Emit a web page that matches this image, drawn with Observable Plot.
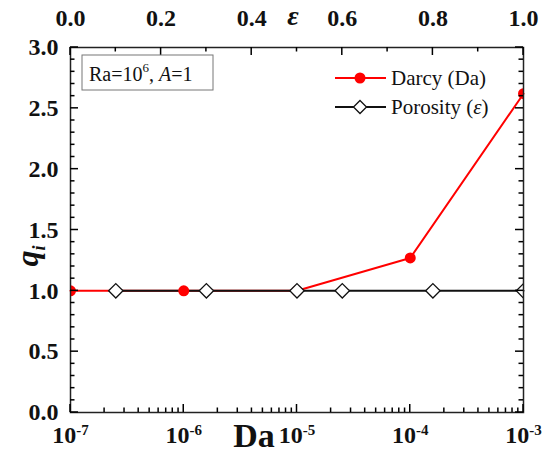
<!DOCTYPE html>
<html><head><meta charset="utf-8">
<script src="https://cdn.jsdelivr.net/npm/d3@7"></script>
<script src="https://cdn.jsdelivr.net/npm/@observablehq/plot@0.6"></script>
<style>
body{margin:0;background:#fff}
svg{font-family:"Liberation Serif","Times New Roman",serif}
</style>
</head><body><div id="chart"></div>
<script>
// ---- data ----
const darcyDa = [1e-7, 1e-6, 1e-5, 1e-4, 1e-3];
const darcyQ = [1.0, 1.0, 1.0, 1.27, 2.62];
const porosityEps = [0.1, 0.3, 0.5, 0.6, 0.8, 1.0];
const porosityQ = [1.0, 1.0, 1.0, 1.0, 1.0, 1.0];
// ---- ticks ----
const daTicks = [1e-7, 1e-6, 1e-5, 1e-4, 1e-3];
const daMinor = [-7, -6, -5, -4].flatMap(k => [2,3,4,5,6,7,8,9].map(m => m * 10 ** k));
const epsTicks = [0, 0.2, 0.4, 0.6, 0.8, 1.0];
const epsMinor = [0.1, 0.3, 0.5, 0.7, 0.9];
const qTicks = [0, 0.5, 1.0, 1.5, 2.0, 2.5, 3.0];
const qMinor = [0.1,0.2,0.3,0.4,0.6,0.7,0.8,0.9,1.1,1.2,1.3,1.4,1.6,1.7,1.8,1.9,2.1,2.2,2.3,2.4,2.6,2.7,2.8,2.9];

const epsToDa = e => 10 ** (-7 + 4 * e);

const darcy = darcyDa.map((x, i) => ({x, q: darcyQ[i]}));
const porosity = porosityEps.map((e, i) => ({x: epsToDa(e), q: porosityQ[i]}));

const tickFont = {fontSize: 24, fontWeight: "bold", fill: "#111"};

const chart = Plot.plot({
  width: 544, height: 455,
  marginLeft: 70, marginRight: 21, marginTop: 47, marginBottom: 43,
  style: {fontFamily: '"Liberation Serif", serif', background: "#fff", overflow: "visible"},
  x: {type: "log", domain: [1e-7, 1e-3], label: null, axis: null},
  y: {domain: [0, 3], label: null, axis: null},
  marks: [
    // tick labels
    Plot.text(daTicks, {x: d => d, text: d => "10^" + Math.round(Math.log10(d)), frameAnchor: "bottom",
      lineAnchor: "top", dy: 13, ...tickFont}),
    Plot.text(epsTicks, {x: epsToDa, text: e => e.toFixed(1), frameAnchor: "top",
      lineAnchor: "bottom", dy: -22, ...tickFont}),
    Plot.text(qTicks, {y: d => d, text: d => d.toFixed(1), frameAnchor: "left",
      textAnchor: "end", dx: -12, ...tickFont}),
    // data
    Plot.line(darcy, {x: "x", y: "q", stroke: "#ff0000", strokeWidth: 2}),
    Plot.line(porosity, {x: "x", y: "q", stroke: "#111", strokeWidth: 2}),
    Plot.dot(darcy, {x: "x", y: "q", r: 5.5, fill: "#ff0000", clip: true}),
    Plot.dot(porosity, {x: "x", y: "q", r: 6.5, symbol: "diamond2", fill: "#fff", stroke: "#111", strokeWidth: 1.3, clip: true}),
    Plot.frame({stroke: "#222", strokeWidth: 1.5})
  ]
});
document.getElementById("chart").appendChild(chart);

const svg = d3.select(chart);
// superscript exponents on log ticks
svg.selectAll("text").each(function() {
  const t = d3.select(this);
  const m = /^10\^(-?\d+)$/.exec(this.textContent);
  if (m) {
    t.text(null);
    t.append("tspan").text("10");
    t.append("tspan").attr("dy", "-0.5em").attr("font-size", 15).text(m[1]);
  }
});

// inward ticks on all four sides, placed with Plot's own scales
const xs = chart.scale("x"), ys = chart.scale("y");
const [L, R] = xs.range, [B, T] = ys.range;
const tg = svg.append("g").attr("stroke", "#000").attr("stroke-width", 1.5).attr("fill", "none");
const MJ = 8, MN = 4.5;
const seg = (x1, y1, x2, y2) => tg.append("path").attr("d", `M${x1},${y1}L${x2},${y2}`);
const vt = (vals, len) => vals.forEach(v => { const x = xs.apply(v); seg(x, B, x, B - len); });
const vtTop = (vals, len) => vals.forEach(e => { const x = xs.apply(epsToDa(e)); seg(x, T, x, T + len); });
const ht = (vals, len) => vals.forEach(v => {
  const y = ys.apply(v);
  seg(L, y, L + len, y);
  seg(R, y, R - len, y);
});
vt(daTicks, MJ); vt(daMinor, MN);
vtTop(epsTicks, MJ); vtTop(epsMinor, MN);
ht(qTicks, MJ); ht(qMinor, MN);

const ann = svg.append("g").attr("font-family", '"Liberation Serif", serif').attr("fill", "#111").attr("text-anchor", "start");
// axis titles
ann.append("text").attr("x", 254).attr("y", 447).attr("text-anchor", "middle")
  .attr("font-size", 34).attr("font-weight", "bold").text("Da");
ann.append("text").attr("x", 293).attr("y", 25).attr("text-anchor", "middle")
  .attr("font-size", 28).attr("font-style", "italic").attr("font-weight", "bold").text("ε");
const ql = ann.append("text").attr("transform", "translate(38,256) rotate(-90)").attr("text-anchor", "middle")
  .attr("font-size", 32).attr("font-weight", "bold").attr("font-style", "italic");
ql.append("tspan").text("q");
ql.append("tspan").attr("font-size", 18).attr("dy", 7).text("i");

// condition box
ann.append("rect").attr("x", 82).attr("y", 55).attr("width", 131).attr("height", 35)
  .attr("fill", "#fff").attr("stroke", "#777").attr("stroke-width", 1);
const ra = ann.append("text").attr("x", 89).attr("y", 81).attr("font-size", 20);
ra.append("tspan").text("Ra=10");
ra.append("tspan").attr("font-size", 13).attr("dy", -9).text("6");
ra.append("tspan").attr("dy", 9).text(", ");
ra.append("tspan").attr("font-style", "italic").text("A");
ra.append("tspan").text("=1");

// legend
ann.append("line").attr("x1", 335).attr("x2", 386).attr("y1", 78).attr("y2", 78).attr("stroke", "#ff0000").attr("stroke-width", 2);
ann.append("circle").attr("cx", 360).attr("cy", 78).attr("r", 5.5).attr("fill", "#ff0000");
ann.append("text").attr("x", 391).attr("y", 85).attr("font-size", 21).text("Darcy (Da)");
ann.append("line").attr("x1", 335).attr("x2", 386).attr("y1", 107).attr("y2", 107).attr("stroke", "#111").attr("stroke-width", 2);
ann.append("path").attr("d", "M360,100.5L366.5,107L360,113.5L353.5,107Z").attr("fill", "#fff").attr("stroke", "#111").attr("stroke-width", 1.3);
const pl = ann.append("text").attr("x", 391).attr("y", 114).attr("font-size", 21);
pl.append("tspan").text("Porosity (");
pl.append("tspan").attr("font-style", "italic").text("ε");
pl.append("tspan").text(")");
</script>
</body></html>
